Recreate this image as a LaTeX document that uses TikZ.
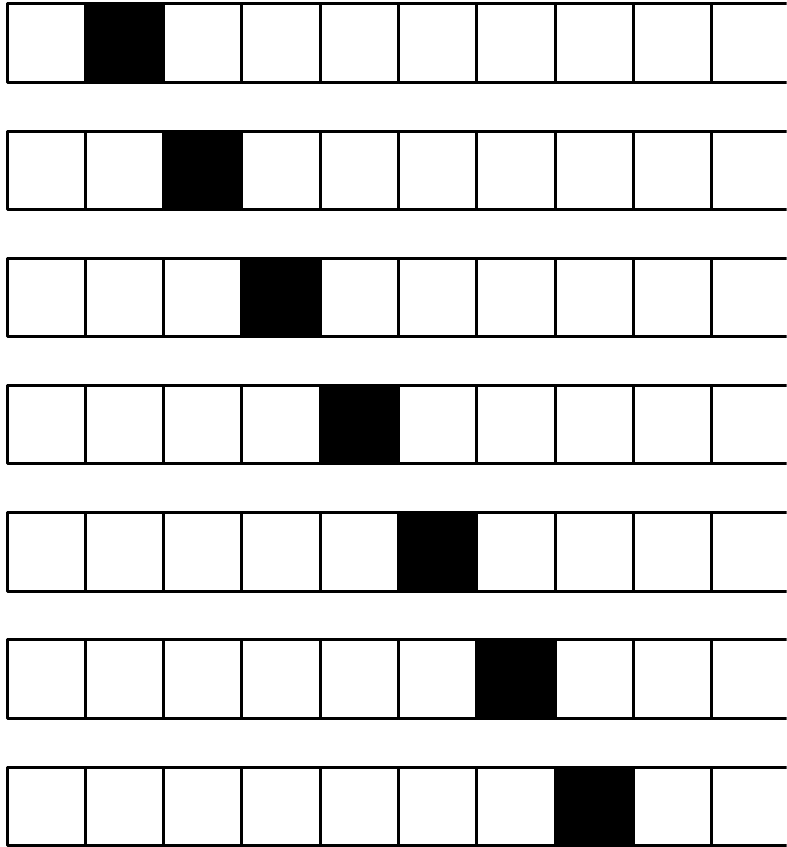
\documentclass[tikz,border=0pt]{standalone}
\begin{document}
\begin{tikzpicture}[line width=1.1pt,line join=round,line cap=round]
\useasboundingbox (-0.09,-10.77) rectangle (9.96,0.05);
\clip (-0.09,-10.77) rectangle (9.96,0.05);
\foreach \r in {0,...,6}{
\fill ({\r+1},{-1.625*\r}) rectangle +(1,-1);
\foreach \c in {0,...,9}
\draw ({\c},{-1.625*\r}) rectangle +(1,-1);
}
\end{tikzpicture}
\end{document}
